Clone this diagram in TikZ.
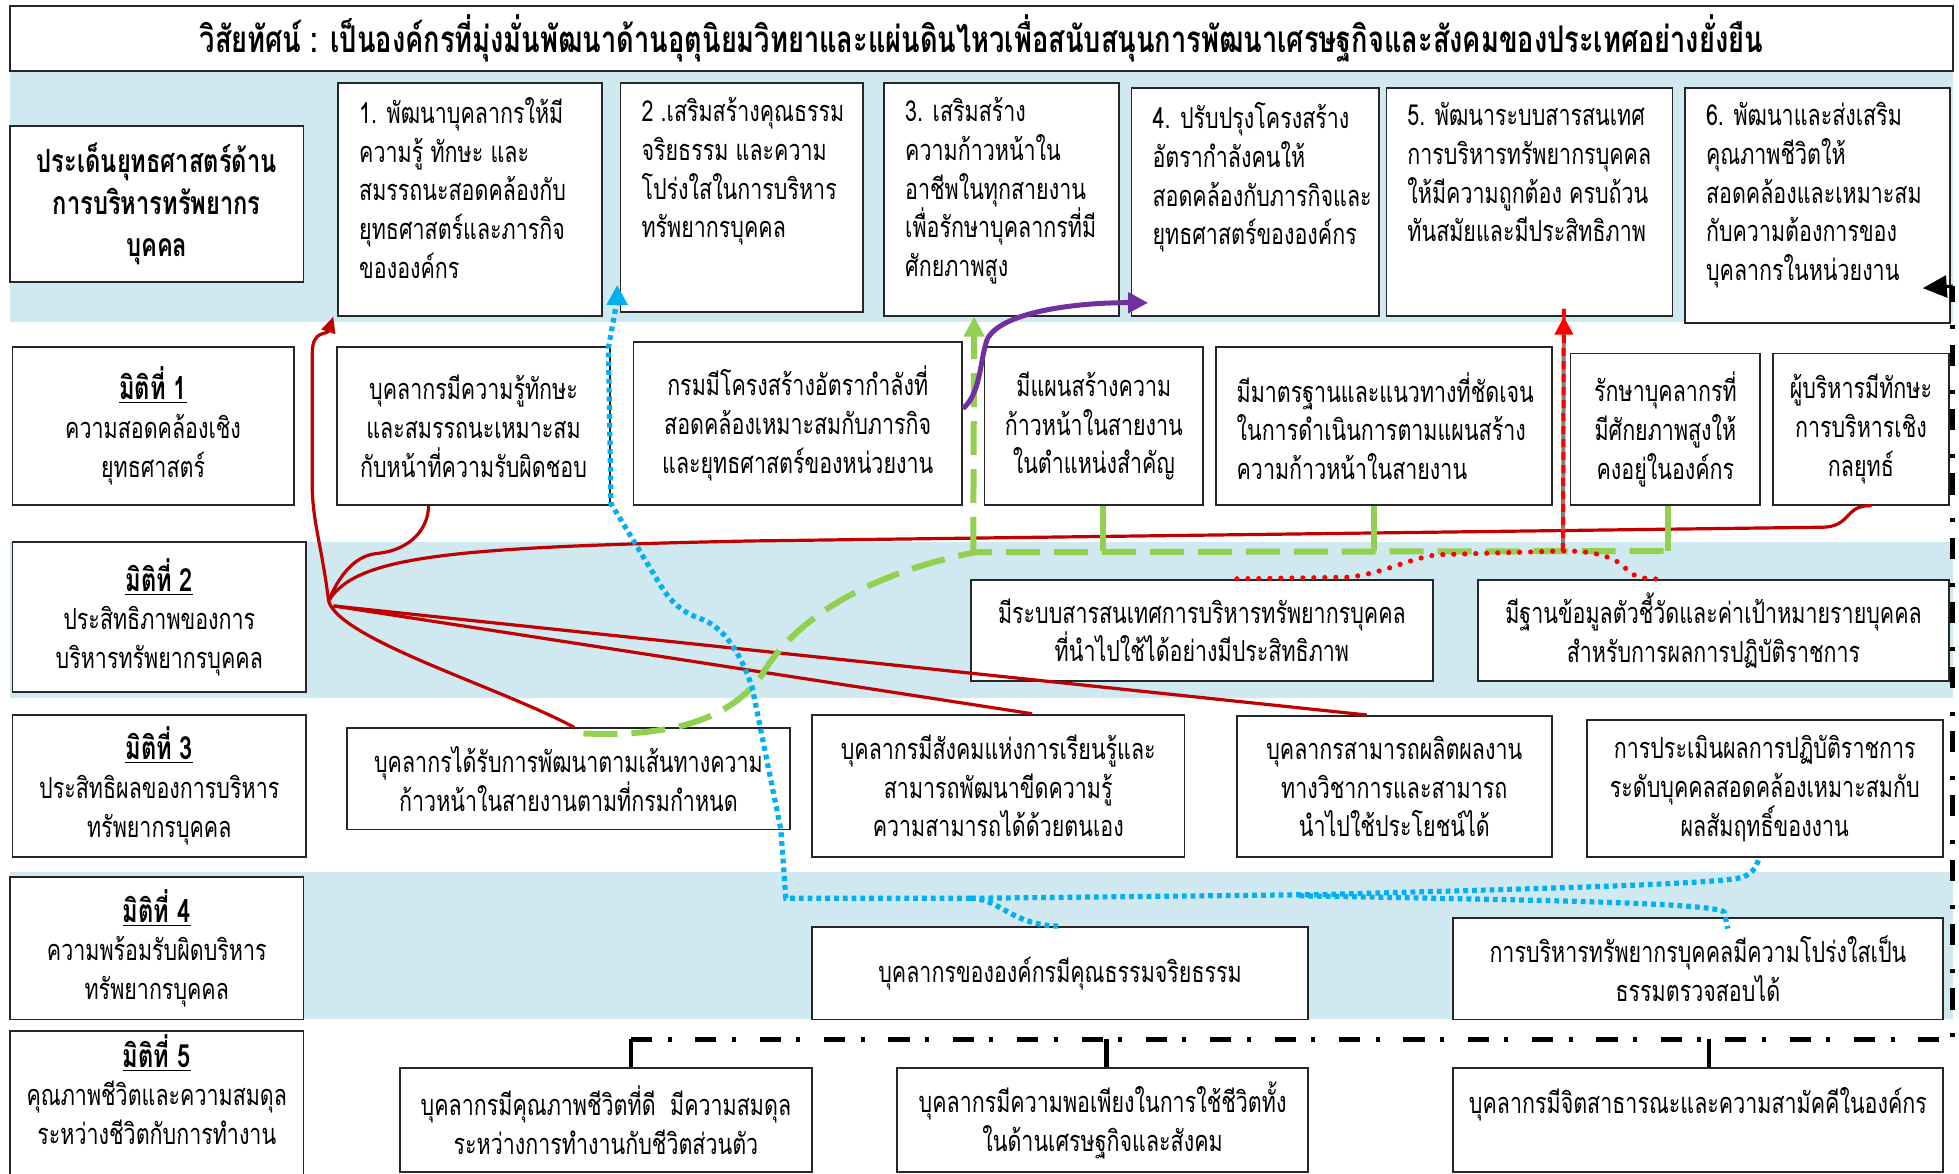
\documentclass[tikz,border=0pt]{standalone}
\usepackage{fontspec}
\setmainfont{Loma}[Script=Thai,FakeStretch=0.74]
\usetikzlibrary{arrows.meta}

\definecolor{bandblue}{RGB}{208,232,240}
\definecolor{hrred}{RGB}{192,0,0}
\definecolor{hrcyan}{RGB}{0,176,240}
\definecolor{hrgreen}{RGB}{146,208,80}
\definecolor{hrpurple}{RGB}{112,48,160}
\definecolor{hrdot}{RGB}{255,0,0}

\newcommand\bodyfont{\fontsize{14.5}{19.4}\selectfont}
\newcommand\titlefont{\fontsize{18.4}{21}\selectfont\bfseries}
\newcommand\dimhead[1]{{\fontsize{16}{19.4}\selectfont\bfseries\underline{มิติที่ #1}}}

\tikzset{
  box/.style={draw=black!85,line width=0.9pt,fill=white,inner sep=0pt,align=center,font=\bodyfont},
  redlink/.style={draw=hrred,line width=1.6pt},
  bluedot/.style={draw=hrcyan,line width=2.6pt,dash pattern=on 2.4pt off 2pt},
  greendash/.style={draw=hrgreen,line width=3pt,dash pattern=on 17pt off 7pt},
  greenstub/.style={draw=hrgreen,line width=3pt},
  purplelink/.style={draw=hrpurple,line width=2.5pt},
  reddotted/.style={draw=hrdot,line width=2.6pt,line cap=round,dash pattern=on 0pt off 5.5pt},
  blackdd/.style={draw=black,line width=2.4pt,dash pattern=on 10.6pt off 7.7pt on 2pt off 11.9pt},
  blackstub/.style={draw=black,line width=2.4pt},
  tip/.style={-{Triangle[length=8pt,width=7pt]}},
  bigtip/.style={-{Triangle[length=10pt,width=10pt]}}
}

% box from its corners (x1,y1)-(x2,y2)
\newcommand\hrbox[7][]{%
  \pgfmathsetmacro\bw{(#5-#3)*0.625}%
  \pgfmathsetmacro\bh{(#6-#4)*0.625}%
  \pgfmathsetmacro\tw{(#5-#3)*0.625-21}%
  \node[box,minimum width=\bw pt,minimum height=\bh pt,#1] (#2) at ({(#3+#5)/2},{(#4+#6)/2}) {#7};}
% strategy box, text from the top
\newcommand\stbox[6]{%
  \pgfmathsetmacro\bw{(#4-#2)*0.625}%
  \pgfmathsetmacro\bh{(#5-#3)*0.625}%
  \node[box,anchor=north west] (#1) at (#2,#3)
    {\parbox[c][\bh pt][t]{\bw pt}{\raggedright\leftskip=10.5pt\vspace*{7pt}#6}};}

\begin{document}
\begin{tikzpicture}[x=0.625pt,y=-0.625pt]
\useasboundingbox (0,0) rectangle (1568,939);
\clip (0,0) rectangle (1568,939);

\fill[bandblue] (8,57) rectangle (1563,258);
\fill[bandblue] (8,434) rectangle (1563,559);
\fill[bandblue] (8,698) rectangle (1563,816);

\hrbox[font=\titlefont]{vision}{8}{5}{1563}{57}{วิสัยทัศน์ : เป็นองค์กรที่มุ่งมั่นพัฒนาด้านอุตุนิยมวิทยาและแผ่นดินไหวเพื่อสนับสนุนการพัฒนาเศรษฐกิจและสังคมของประเทศอย่างยั่งยืน}

% left column
\hrbox[font=\fontsize{16}{21}\selectfont\bfseries]{hdr}{8}{101}{243}{226}{ประเด็นยุทธศาสตร์ด้าน\\การบริหารทรัพยากร\\บุคคล}
\hrbox{dim1}{10}{278}{235}{404}{\dimhead{1}\\ความสอดคล้องเชิง\\ยุทธศาสตร์}
\hrbox{dim2}{10}{434}{245}{554}{\dimhead{2}\\ประสิทธิภาพของการ\\บริหารทรัพยากรบุคคล}
\hrbox{dim3}{10}{572}{245}{686}{\dimhead{3}\\ประสิทธิผลของการบริหาร\\ทรัพยากรบุคคล}
\hrbox{dim4}{8}{702}{243}{816}{\dimhead{4}\\ความพร้อมรับผิดบริหาร\\ทรัพยากรบุคคล}
\hrbox{dim5}{8}{825}{243}{950}{\dimhead{5}\\คุณภาพชีวิตและความสมดุล\\ระหว่างชีวิตกับการทำงาน\\\mbox{}}

% strategy issues
\stbox{st1}{270}{66}{481}{252}{1. พัฒนาบุคลากรให้มี\\ความรู้ ทักษะ และ\\สมรรถนะสอดคล้องกับ\\ยุทธศาสตร์และภารกิจ\\ขององค์กร}
\stbox{st2}{496}{66}{690}{249}{2 .เสริมสร้างคุณธรรม\\จริยธรรม และความ\\โปร่งใสในการบริหาร\\ทรัพยากรบุคคล}
\stbox{st3}{707}{66}{895}{252}{3. เสริมสร้าง\\ความก้าวหน้าใน\\อาชีพในทุกสายงาน\\เพื่อรักษาบุคลากรที่มี\\ศักยภาพสูง}
\stbox{st4}{905}{70}{1103}{252}{4. ปรับปรุงโครงสร้าง\\อัตรากำลังคนให้\\สอดคล้องกับภารกิจและ\\ยุทธศาสตร์ขององค์กร}
\stbox{st5}{1109}{70}{1338}{252}{5. พัฒนาระบบสารสนเทศ\\การบริหารทรัพยากรบุคคล\\ให้มีความถูกต้อง ครบถ้วน\\ทันสมัยและมีประสิทธิภาพ}
\stbox{st6}{1348}{70}{1560}{258}{6. พัฒนาและส่งเสริม\\คุณภาพชีวิตให้\\สอดคล้องและเหมาะสม\\กับความต้องการของ\\บุคลากรในหน่วยงาน}

% dimension 1
\hrbox{d1a}{270}{278}{488}{404}{บุคลากรมีความรู้ทักษะ\\และสมรรถนะเหมาะสม\\กับหน้าที่ความรับผิดชอบ}
\hrbox{d1b}{507}{274}{770}{404}{กรมมีโครงสร้างอัตรากำลังที่\\สอดคล้องเหมาะสมกับภารกิจ\\และยุทธศาสตร์ของหน่วยงาน}
\hrbox{d1c}{788}{278}{963}{404}{มีแผนสร้างความ\\ก้าวหน้าในสายงาน\\ในตำแหน่งสำคัญ}
\hrbox[align=left,text width=\tw pt]{d1d}{973}{278}{1242}{404}{มีมาตรฐานและแนวทางที่ชัดเจน\\ในการดำเนินการตามแผนสร้าง\\ความก้าวหน้าในสายงาน}
\hrbox{d1e}{1257}{283}{1409}{404}{รักษาบุคลากรที่\\มีศักยภาพสูงให้\\คงอยู่ในองค์กร}
\hrbox{d1f}{1419}{283}{1560}{404}{ผู้บริหารมีทักษะ\\การบริหารเชิง\\กลยุทธ์}

% dimension 2
\hrbox{d2a}{777}{464}{1147}{545}{มีระบบสารสนเทศการบริหารทรัพยากรบุคคล\\ที่นำไปใช้ได้อย่างมีประสิทธิภาพ}
\hrbox{d2b}{1183}{464}{1560}{545}{มีฐานข้อมูลตัวชี้วัดและค่าเป้าหมายรายบุคคล\\สำหรับการผลการปฏิบัติราชการ}

% dimension 3
\hrbox{d3a}{278}{583}{632}{664}{บุคลากรได้รับการพัฒนาตามเส้นทางความ\\ก้าวหน้าในสายงานตามที่กรมกำหนด}
\hrbox{d3b}{650}{572}{948}{686}{บุคลากรมีสังคมแห่งการเรียนรู้และ\\สามารถพัฒนาขีดความรู้\\ความสามารถได้ด้วยตนเอง}
\hrbox{d3c}{990}{573}{1242}{686}{บุคลากรสามารถผลิตผลงาน\\ทางวิชาการและสามารถ\\นำไปใช้ประโยชน์ได้}
\hrbox{d3d}{1270}{576}{1555}{686}{การประเมินผลการปฏิบัติราชการ\\ระดับบุคคลสอดคล้องเหมาะสมกับ\\ผลสัมฤทธิ์ของงาน}

% dimension 4
\hrbox{d4a}{650}{742}{1047}{816}{บุคลากรขององค์กรมีคุณธรรมจริยธรรม}
\hrbox{d4b}{1163}{735}{1555}{816}{การบริหารทรัพยากรบุคคลมีความโปร่งใสเป็น\\ธรรมตรวจสอบได้}

% dimension 5
\hrbox{d5a}{320}{855}{650}{938}{บุคลากรมีคุณภาพชีวิตที่ดี~~มีความสมดุล\\ระหว่างการทำงานกับชีวิตส่วนตัว}
\hrbox{d5b}{718}{855}{1047}{938}{บุคลากรมีความพอเพียงในการใช้ชีวิตทั้ง\\ในด้านเศรษฐกิจและสังคม}
\hrbox{d5c}{1163}{855}{1555}{938}{บุคลากรมีจิตสาธารณะและความสามัคคีในองค์กร\\\mbox{}}

% red links from the hub
\coordinate (hub) at (263,481);
\coordinate (hubb) at (267,485);
\draw[redlink,tip] (hub) .. controls (258,440) and (251,420) .. (250,394) -- (250,282)
  .. controls (250,264) and (262,268) .. ([xshift=-2pt]st1.south west);
\draw[redlink] (hub) .. controls (275,452) and (290,444) .. (302,443)
  .. controls (330,440) and (343,422) .. ([xshift=-22.5pt]d1a.south);
\draw[redlink] (hub) .. controls (285,445) and (360,438) .. (600,433) -- (1458,422)
  .. controls (1482,422) and (1476,404) .. ([xshift=5.3pt]d1f.south);
\draw[redlink] (hub) .. controls (272,512) and (400,550) .. ([xshift=3pt]d3a.north);
\draw[redlink] (hubb) -- ([xshift=16.9pt]d3b.north);
\draw[redlink] (hubb) -- ([xshift=-13.75pt]d3c.north);

% green
\coordinate (gj) at (779,441);
\draw[greendash] ([xshift=7.5pt,yshift=-3pt]d3a.north) .. controls (540,590) and (585,575) .. (610,540)
  .. controls (630,505) and (680,462) .. (781,442) -- (1341,441);
\draw[greendash,bigtip] (gj) -- ([xshift=-13.75pt]st3.south);
\draw[greenstub] ([xshift=4.7pt]d1c.south) -- ([xshift=4.7pt]d1c.south |- gj);
\draw[greenstub] ([xshift=-4.7pt]d1d.south) -- ([xshift=-4.7pt]d1d.south |- gj);
\draw[greenstub] ([xshift=1.25pt]d1e.south) -- ([xshift=1.25pt]d1e.south |- gj);

% blue
\coordinate (bj) at (777,719);
\draw[bluedot] (bj) -- (629,719) -- (625,664) -- (602,550) .. controls (590,515) and (575,500) .. (560,495)
  .. controls (540,488) and (532,474) .. (526,464) -- (489,403) -- (487,278) -- (494,240);
\draw[hrcyan,line width=2.6pt,bigtip] (494,240) -- ([xshift=-1.25pt,yshift=14pt]st2.south west);
\draw[bluedot] (bj) .. controls (800,719) and (810,741) .. (d4a.north);
\draw[bluedot] (bj) -- (1060,716) .. controls (1200,712) and (1380,708) .. (1395,702)
  .. controls (1405,698) and (1406,692) .. ([xshift=-2.8pt]d3d.south);
\draw[bluedot] (1040,717) .. controls (1200,720) and (1372,722) .. (1380,730) -- ([xshift=15pt,yshift=-5.6pt]d4b.north);

% purple
\draw[purplelink,bigtip] ([yshift=7.5pt]d1b.east) .. controls (785,315) and (784,290) .. (790,272)
  .. controls (800,250) and (860,242) .. ([xshift=8.75pt,yshift=6.9pt]st4.south west);

% red dotted
\coordinate (rj) at (1251,441);
\draw[reddotted] ([xshift=17.5pt]d2a.north) -- (1080,462) .. controls (1110,458) and (1125,448) .. (1150,444)
  -- (rj) .. controls (1280,441) and (1295,447) .. (1303,457) .. controls (1310,463) and (1320,464) .. ([xshift=-24pt]d2b.north);
\draw[gray,line width=2pt] (rj) -- ([xshift=17.2pt,yshift=4pt]st5.south);
\draw[hrdot,line width=2pt,dash pattern=on 4pt off 2.5pt] (rj) -- ([xshift=17.2pt,yshift=4pt]st5.south);
\draw[hrdot,line width=2pt,-{Triangle[length=9pt,width=9pt]}] ([xshift=17.2pt,yshift=-4pt]st5.south) -- ([xshift=17.2pt]st5.south);

% black dash-dot
\coordinate (bk) at (505,832);
\coordinate (bturn) at (1563,229);
\draw[blackstub] ([xshift=12.5pt]d5a.north) -- (bk);
\draw[blackdd] (bk) -- (1563,832) -- (bturn);
\draw[black,line width=1.5pt,-{Triangle[length=12pt,width=11pt]}] (bturn) -- ([xshift=-14pt,yshift=18pt]st6.south east);
\draw[blackstub] ([xshift=2pt]d5b.north) -- ([xshift=2pt]d5b.north |- bk);
\draw[blackstub] ([xshift=5.6pt]d5c.north) -- ([xshift=5.6pt]d5c.north |- bk);
\end{tikzpicture}
\end{document}
